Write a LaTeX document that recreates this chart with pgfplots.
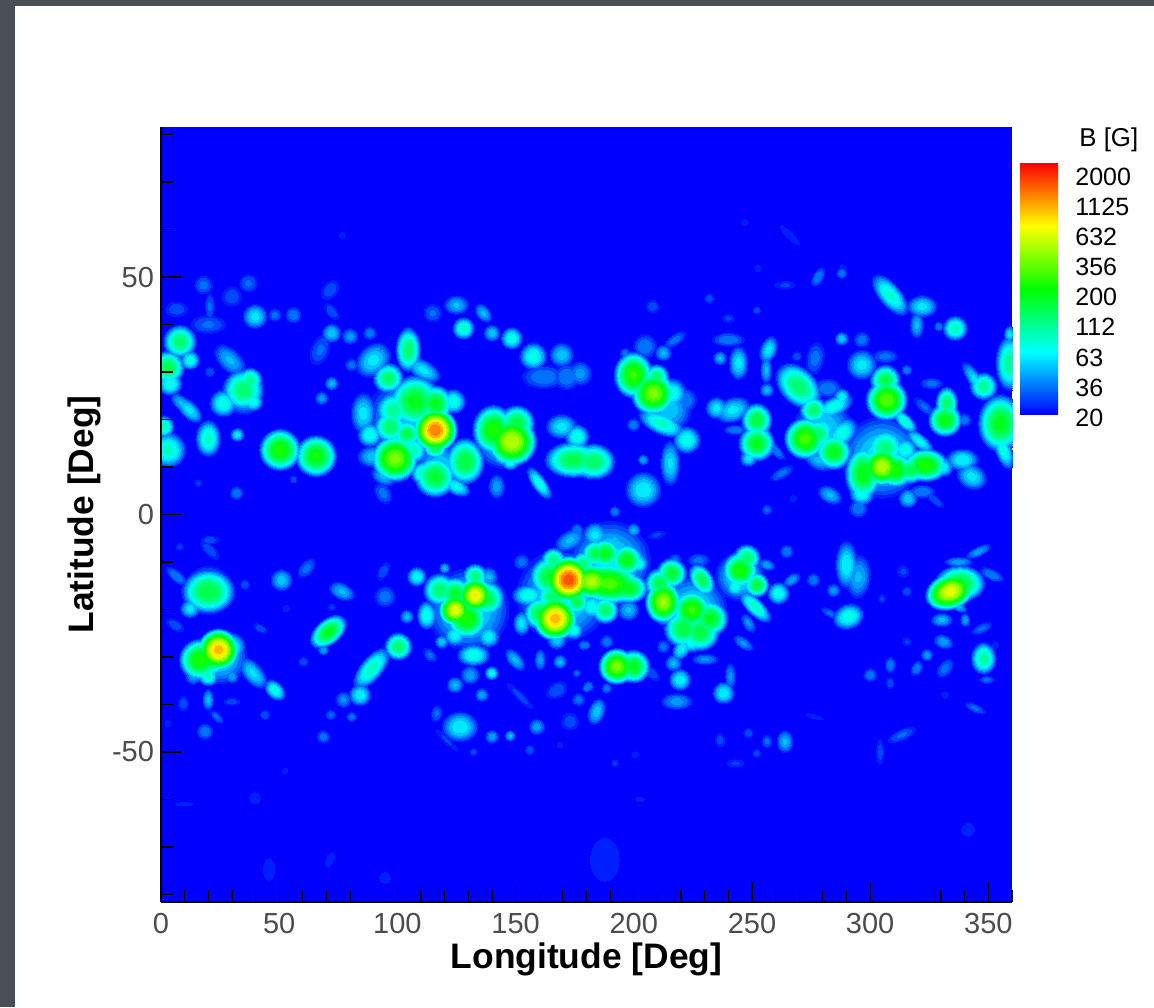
\documentclass[border=0pt]{standalone}
\usepackage{fontspec}
\setmainfont{Liberation Sans}
\usepackage{pgfplots}
\usepackage{pgfplotstable}
\pgfplotsset{compat=1.18}
\definecolor{slate}{RGB}{74,78,87}
\pgfplotstableread{
x y r p e a
105 20 32 .23 1 0
118 10 18 .23 1 0
145 16 22 .26 1 0
130 -20 30 .26 1 0
170 -17 34 .26 1 0
190 -10 30 .26 1 0
225 -20 25 .26 1 0
245 -13 18 .26 1 0
305 12 30 .26 1 0
215 22 16 .22 1 0
280 18 22 .24 1 0
25 -30 20 .25 1 0
20 -16 18 .25 1 0
35 25 14 .22 1 0
8 36.4 12 .42 1 0
12.3 32.5 7 .3 1 0
3 31 12 .45 1 0
3.8 27.6 9 .3 1 0
12 22 6 .25 2 -45
8.7 23.4 5 .2 2 -45
3 13.6 13 .33 1 0
1 18.5 8 .35 1 0
20 16 9 .33 1.5 90
32.3 16.8 5 .25 1 0
50.4 13.6 15 .55 1 0
65.6 12.3 15 .53 1 0
34.8 26.2 15 .42 1 0
26.4 23.4 10 .3 1 0
37.7 28.3 9 .38 1 0
39 23.8 7 .3 1 0
29.2 32.5 8 .2 1.8 -45
18 48.3 7 .13 1 0
20.7 43.8 3.5 .12 3 90
20 40 7 .12 2 0
6.6 43.2 6 .1 1.5 0
37 48.7 7 .12 1 0
30 45.9 8 .1 1 0
39.8 41.7 9 .25 1 0
48.2 42 5 .13 1 0
56 42 6 .15 1 0
71.5 47.3 6 .1 1.5 50
72.2 38.2 7 .22 1 0
80 37.5 6 .17 1 0
67.3 34.7 7 .12 1.8 70
72.2 42.7 4 .1 2 -50
88.4 38.2 5 .15 1 0
80.7 31.5 5 .13 1 0
72.2 27.6 5 .2 1 0
68 24.5 5 .17 1 0
20.7 30 4 .1 1 0
32 4.5 5 .15 1 0
56 7.4 3 .1 1 0
15.8 6.6 3 .08 1 0
104.6 34.7 9 .42 1.8 90
89.8 32.5 11 .25 1.3 45
96.2 28.7 11 .42 1 0
111 30.4 7 .25 2 -30
107.5 23.8 19 .5 1 0
116 23.4 13 .5 1 0
123.7 23.8 9 .3 1 0
98.3 22 13 .38 1 0
85.6 21.3 9 .25 1.7 90
97 18.5 12 .43 1 0
104 17 10 .45 1 0
116 17.8 16 .92 1 0
116 14.3 9 .45 1 0
88.4 16.8 9 .3 1 0
99 11.8 17 .65 1 0
106.8 13.6 10 .35 1 0
89.9 12.2 8 .22 1.5 0
116 8 15 .48 1 0
111 8.7 9 .35 1 0
125 5.9 6 .28 1.8 -30
94 8 6 .2 1.6 -30
94 4.5 6 .13 1.5 -60
128.6 11.2 14 .47 1.2 90
140.6 17.8 15 .55 1.2 90
148.4 15.4 18 .72 1 0
150.5 19.2 13 .47 1 0
144.9 12.6 8 .35 1 0
147.7 11.1 6 .3 1 0
160 6.6 5 .3 2.8 -55
142 5.9 6 .18 1.5 90
169.5 18.5 9 .25 1.3 0
176 16.4 9 .3 1 0
174.5 11.5 13 .45 1.6 0
183 11.1 13 .43 1.2 0
125 44.1 7 .2 1.3 0
128 39.2 8 .33 1 0
115 42.4 7 .12 1 0
136.4 42.4 5 .2 1.6 -50
140 38.2 6 .22 1 0
148.4 37.1 8 .3 1 0
157.5 33.3 10 .3 1 0
169.5 33.6 9 .22 1 0
177.3 29.7 9 .17 1 0
161.8 29 9 .15 1.8 0
171.6 29 10 .15 1 0
199.9 29.4 14 .58 1.2 90
208.3 25.5 16 .65 1 0
209.7 29 9 .42 1 0
216 25.5 11 .3 1 0
221.7 24.1 9 .15 1 0
195 28.3 6 .2 1 0
204.8 35.4 9 .15 1 0
212.5 34 6 .2 1 0
217.5 36.8 4 .13 2.5 35
196.3 34 4 .13 1 0
211.8 19.2 8 .33 2.3 -25
199.9 18.9 5 .15 1 0
222.4 15.7 10 .3 1 0
215.4 10.8 7 .24 2.4 90
204 11.5 4 .18 1 0
204 5.2 13 .27 1 0
192 .6 4 .15 1 0
208 43.8 5 .1 1 0
232 45.5 4 .1 1 0
252 43 3 .1 1 0
240 41.3 3.5 .08 1.5 0
240 36.8 5 .15 2.5 0
236.5 32.9 5 .2 1 0
244.3 31.9 7 .25 1.8 90
257 34.7 6 .25 1.7 70
256 30.4 4 .2 2.5 90
256.3 26.2 5 .2 1 0
269 33.3 4 .1 1 0
276.7 32.9 7 .13 1.8 80
235 22.4 8 .25 1 0
242 22 9 .25 1.5 20
252 19.9 11 .47 1.1 90
252 15 13 .5 1 0
248.5 11.8 6 .25 1 0
243 17.8 3.5 .15 2.5 0
259.8 13.6 3.5 .15 3 -45
262.6 8.7 4 .13 2.5 30
269.7 27 13 .42 1.5 -45
276 22 10 .42 1 0
284.5 22.7 7 .3 2.2 25
288 24.8 6 .27 1 0
282 26.6 7 .15 1.5 0
272.5 16 15 .6 1 0
278 17 11 .42 1 0
284.5 13.2 13 .5 1 0
288 17.1 9 .3 1.5 45
278 11.5 7 .2 1.7 -30
283 4.1 6 .2 1.6 -30
307 24.1 15 .62 1 0
306.4 28.3 11 .45 1 0
296.5 31.5 11 .25 1 0
296.5 36.8 6 .14 1 0
288 37 5 .22 1 0
314.8 19.6 5 .32 2.2 -45
321 15.4 5 .28 2.5 -40
306.3 33.3 5 .13 2 0
315.5 30.4 4 .15 1 0
326 27.6 4 .13 2.2 0
331.7 19.9 12 .52 1 0
332.4 23.4 8 .42 1.5 90
340 19.9 5 .14 1 0
323 22.7 4 .12 2.5 -40
308.5 46.2 8 .32 2.3 -50
322 43.8 8 .25 1.4 0
319.7 39.9 5 .2 2 90
336 39.2 9 .35 1 0
329 39.6 3.5 .15 1 0
278 50 4 .15 2 60
288 50.8 4 .15 1 0
264 48.3 3 .08 3 0
345 28 5 .25 3.5 -55
348 27 10 .38 1 0
355 19.2 16 .5 1.3 90
356.4 13.6 6 .3 2.5 -70
359 31.9 10 .38 2 90
359 38 4 .25 1.5 90
297 8.7 13 .52 1.5 90
296.5 4.5 9 .3 1 0
305 10.1 14 .72 1 0
310.6 9.4 13 .55 1 0
306.3 14 14 .4 1 0
314.8 13.6 9 .3 1 0
323.3 10.4 12 .55 1.4 0
317 9.4 10 .45 1 0
331 10 7 .27 1 0
339 11.5 8 .27 1.5 0
343 8 9 .25 1.3 -30
316 3.4 7 .22 1 0
322 4.8 5 .15 2 0
295 1.3 7 .15 1 0
327.5 3 3 .1 3 -40
256.3 1 4 .12 1 0
267.5 3.4 3 .07 1 0
20 -16.2 16 .47 1.2 0
12.3 -19.8 7 .25 1 0
6.6 -13 4 .15 2.5 -40
26.4 -18 5 .15 1 0
20.7 -7.5 4 .1 2.5 -45
20.7 -5.4 3 .1 2.5 0
8 -6.8 3 .08 1 0
24.3 -28.5 15 .85 1 0
16.5 -30.6 15 .55 1 0
20.7 -29.9 14 .55 1 0
20 -34.1 7 .33 1 0
30 -27.8 10 .28 1 0
13.7 -34.1 6 .18 1 0
30 -34.1 5 .18 1 0
39 -33.4 7 .24 2 -50
48.2 -37 6 .3 1.5 -45
20 -39 4 .2 2 90
30 -39.4 3 .09 2.2 0
9.5 -39.8 4 .1 1.5 90
23.6 -42.6 3 .12 2.2 -45
18.6 -45.7 6 .15 1 0
44 -42.2 4 .1 1 0
3 -44 3 .06 1 0
42 -24 3 .1 2 -30
35.5 -14.8 4 .1 1 0
6 -23.3 4 .1 2 -30
51 -13.8 8 .22 1 0
61.6 -11.3 5 .13 1.8 50
76.5 -16.2 6 .2 1.7 -25
70.8 -24.7 9 .5 1.7 40
68.7 -28.5 4 .18 1 0
72.2 -19.5 3 .08 1 0
53 -19.8 3 .07 1 0
60.2 -31 4 .1 1 0
89.1 -32.4 8 .34 2.3 50
84.2 -38 8 .27 1 0
100.4 -27.8 10 .42 1 0
77.2 -39 6 .16 1 0
80.7 -42.6 4 .13 1 0
71.8 -42.2 4 .12 1 0
68.7 -46.8 5 .14 1 0
104 -21.5 5 .2 1 0
94.8 -17.3 8 .14 1 0
94 -12 4 .1 2 60
112.4 -21.2 7 .3 1.5 90
108.2 -13.1 7 .28 1 0
118 -15.9 12 .42 1 0
124.4 -16.6 12 .48 1 0
124.4 -20.1 12 .76 1 0
132.9 -17 13 .78 1 0
129.3 -21.9 15 .55 1 0
137.8 -17.7 13 .45 1 0
132.9 -13 9 .4 1 0
138.5 -13.1 7 .2 1 0
120 -11.3 4 .2 1 0
124.4 -25.4 8 .28 1 0
138.5 -25.7 8 .27 1 0
118.8 -26.8 5 .22 1 0
132.2 -29.6 8 .3 1.5 0
149.8 -30.6 5 .2 2 -50
113.8 -29.6 4 .12 1.6 -50
130.8 -33.8 7 .18 1 0
139.9 -33.4 5 .28 1 0
124.4 -35.9 6 .2 1 0
135.7 -38 5 .18 1 0
126.5 -44.7 11 .27 1.2 0
116.6 -41.9 4 .12 1.7 80
120.9 -47.5 2.5 .08 5 -45
140 -46.8 5 .18 1 0
147.7 -46.6 4 .2 1 0
132.2 -50 3 .09 1 0
156 -49.6 4 .1 1 0
159 -44.7 6 .18 1 0
152 -38.3 3 .09 5 -45
152.6 -10 6 .13 1 0
160.4 -30.6 4 .17 2 90
168.8 -31 5 .2 1 0
152.6 -22.9 6 .25 1.5 90
175.9 -33.4 3 .13 1 0
180 -36.6 3 .15 1 0
176.6 -39 5 .13 1 0
167.4 -37 6 .11 1.5 30
173 -43.6 7 .1 1 0
155.4 -17 8 .3 1.5 0
172.4 -13.7 17 .96 1 0
164.6 -13.1 15 .48 1 0
166 -9.6 9 .4 1 0
178.7 -10.3 9 .4 1 0
166.7 -21.9 16 .85 1 0
160.4 -20.8 12 .47 1 0
175.9 -18.4 9 .45 1 0
166 -17.3 13 .42 1 0
174.5 -24.3 7 .3 1 0
167.4 -26.4 7 .22 1 0
178.7 -27.5 4 .14 1 0
173 -5.4 7 .2 1.8 30
176 -3.3 5 .15 1 0
179.4 -13.8 12 .6 1.2 0
182.2 -14.1 13 .7 1.3 0
189.3 -14.5 15 .6 1.7 -5
197.7 -15.5 11 .5 1.3 0
187.9 -8.2 11 .5 1 0
197 -9.6 12 .5 1 0
183.6 -4.3 9 .25 1 0
192 -5.4 8 .2 1 0
199.9 -3.3 5 .2 1 0
183.6 -8.2 10 .45 1 0
202 -10.3 7 .3 1 0
187.9 -20.1 10 .42 1 0
182.2 -19.4 9 .3 1 0
197.7 -20.1 8 .2 1 0
192.8 -32 13 .65 1 0
199.9 -32 12 .5 1 0
196.3 -32.7 9 .3 1 0
188.6 -26.8 5 .14 1 0
180 -27.5 3 .15 1 0
180.8 -36.2 4 .15 1 0
188.6 -36.6 4 .14 1 0
184.3 -41.5 6 .22 1.7 70
212.5 -18.4 13 .68 1.2 90
216 -12.4 11 .48 1 0
211 -14.5 11 .45 1 0
213.2 -21.5 7 .22 1 0
228.8 -13.8 8 .44 1.6 -60
227.4 -9.6 5 .13 1.7 0
217.5 -9.6 5 .13 1 0
224.5 -20.1 14 .58 1 0
232.3 -21.9 13 .5 1 0
221 -24 14 .47 1 0
228 -24.7 14 .47 1 0
220.3 -28.2 6 .27 1.6 60
224.5 -26.8 8 .3 1 0
245 -11.7 13 .54 1 0
247.8 -9.2 10 .42 1 0
252 -14.8 9 .47 1 0
251.3 -19.4 6 .33 2.6 -45
242.9 -15.2 7 .3 1 0
256.3 -10.6 4 .18 1.6 -20
264.7 -7.8 5 .15 1 0
261.2 -16.6 8 .3 1 0
266.8 -13.8 4 .18 1.8 35
276 -13.8 5 .15 1 0
248.5 -22.9 4 .16 2 -60
246.4 -27.1 4 .16 2.2 -35
230.2 -30.5 4 .16 2.5 0
219.6 -34.8 8 .27 1 0
216.8 -31.3 6 .2 1 0
240.8 -34.1 4 .16 2.5 90
238 -37.6 8 .27 1 0
218.2 -39.4 6 .17 2 0
212.5 -27.8 5 .13 1 0
207.6 -33.4 4 .1 2 -45
209.7 -4.3 3 .08 2.5 15
290 -10.6 8 .27 2.2 90
295 -13.1 9 .2 1.8 85
290.8 -21.5 9 .3 1.3 20
284.5 -16 5 .17 1 0
283 -20.8 3 .12 2.5 -30
305 -17.7 3.5 .08 1 0
314 -12 5 .08 1 0
315.5 -16.2 4 .1 1 0
333.8 -16.2 13 .76 1.4 20
329 -17.6 8 .5 1 0
338 -14.5 13 .48 1.4 0
345 -14.8 5 .22 1 0
337.4 -10 3.5 .18 3 0
345.8 -7.8 3.5 .17 3 25
351.5 -12.7 4 .15 2.5 -25
337.4 -19.4 3.5 .2 2 -30
340.2 -22.2 3.5 .18 1.5 90
347.2 -24 3.5 .12 2.5 25
330.3 -22.2 5 .2 1.6 0
331 -26.8 5 .18 1.5 -20
324 -29.6 4.5 .17 1 0
319.7 -32.4 4 .15 1.5 60
308.5 -31.7 4 .15 1.5 90
308.5 -35.5 3 .1 1.6 90
300 -33.8 5 .15 1 0
331.7 -32.4 5 .13 1.7 50
348 -30.3 9 .37 1.3 90
349.4 -34.8 3 .12 2 0
353 -27.5 3 .07 1 0
344.4 -40.8 3 .12 3 -25
331.7 -38 3 .07 1 0
315.5 -26.8 3.5 .08 1 0
264 -47.8 6 .2 1.4 90
256.3 -47.8 4 .12 1.3 90
248.5 -46 4 .1 1 0
236.5 -47.5 4 .09 1.4 90
252 -50.3 3.5 .09 1 0
313.4 -46.4 4 .12 3 25
304.2 -50 3 .09 3.5 90
243 -52.4 3 .08 2.5 0
192 -52.4 3 .08 1 0
200.6 -50.6 3 .07 1 0
276.7 -42.6 2 .05 5 -15
187.8 -72.7 14 .06 1.5 90
341.4 -66.4 7 .05 1 0
45.7 -74.8 6 .05 2 90
94.8 -76.5 6 .05 1 0
71.5 -72.7 5 .04 2 70
39.8 -59.7 6 .05 1 0
10 -61 2 .04 6 0
247 61.5 3 .07 1 0
266 58.8 3 .07 4 -45
76.6 58.8 3 .06 1 0
252.5 51.8 3 .06 1 0
288.5 51.9 3 .07 1 0
52.5 -54 3 .05 1 0
202.6 -60 3 .04 2 0
168.8 -48.5 3 .05 1 0
}\blobs
\begin{document}
\begin{tikzpicture}[x=1pt,y=1pt]
\fill[slate] (0,0) rectangle (577,503.5);
\fill[white] (7.5,0) rectangle (577,500.5);
\useasboundingbox (0,0) rectangle (577,503.5);
\begin{axis}[
  at={(80.5pt,52.5pt)}, anchor=south west,
  scale only axis, width=425.5pt, height=387.5pt,
  xmin=0, xmax=360, ymin=-81.6, ymax=81.6,
  axis x line*=bottom, axis y line*=left,
  axis line style={line width=1.1pt,-},
  axis background/.style={fill={rgb,255:red,0;green,0;blue,255}},
  axis on top,
  clip marker paths=true,
  xtick={0,50,...,350}, ytick={-50,0,50},
  yticklabels={-50,0,50},
  xticklabels={0,50,100,150,200,250,300,350},
  minor xtick={0,10,...,360}, minor ytick={-80,-70,...,80},
  tick align=inside,
  major tick length=10pt, minor tick length=6pt,
  tick style={black,line width=.6pt},
  ticklabel style={font=\fontsize{14.5}{16}\selectfont,text=black!70},
  xticklabel style={yshift=-2pt},
  xlabel={\textbf{Longitude [Deg]}}, ylabel={\textbf{Latitude [Deg]}},
  label style={font=\fontsize{17.7}{19}\selectfont},
  xlabel style={yshift=2pt},
  ylabel style={yshift=-1.5pt},
  colormap={bgyr}{rgb255(0)=(0,0,255) rgb255(1)=(0,255,255) rgb255(2)=(0,255,0) rgb255(3)=(255,255,0) rgb255(4)=(255,0,0)},
  point meta min=0, point meta max=1,
  colorbar,
  colorbar/width=19pt,
  colorbar style={at={(1.0094,0.6284)}, anchor=south west, height=126pt,
    ytick=\empty, xtick=\empty, axis line style={draw=none}, major tick length=0pt},
  unbounded coords=discard,
]
\pgfplotsinvokeforeach{0.03,0.07,0.11,0.15,0.19,0.23,0.27,0.31,0.35,0.39,0.43,0.47,0.52,0.57,0.62,0.67,0.72,0.77,0.82,0.87,0.92}{
\addplot[scatter, only marks, mark=*,
  point meta={#1},
  scatter/use mapped color={draw=mapped color,fill=mapped color,line width=0pt},
  visualization depends on={0.72*\thisrow{r}*sqrt(max(0,1-#1/\thisrow{p})) \as \rad},
  visualization depends on={\thisrow{e} \as \ecc},
  visualization depends on={\thisrow{a} \as \ang},
  scatter/@pre marker code/.append style={/tikz/mark size=\rad,/tikz/rotate=\ang,/tikz/xscale=\ecc},
] table[x=x, y expr={\thisrow{p}>#1 ? \thisrow{y} : nan}] {\blobs};
}
\end{axis}
\begin{scope}[font=\fontsize{12.5}{14}\selectfont]
\node[anchor=west,inner sep=0pt] at (539.5,433.5) {\fontsize{12.9}{14}\selectfont B [G]};
\foreach \t/\yy in {2000/177,1125/207,632/237,356/267,200/297,112/327,63/358,36/388,20/418}{
  \node[anchor=west,inner sep=0pt] at (537.5,503.5-\yy/2) {\t};
}
\end{scope}
\end{tikzpicture}
\end{document}
